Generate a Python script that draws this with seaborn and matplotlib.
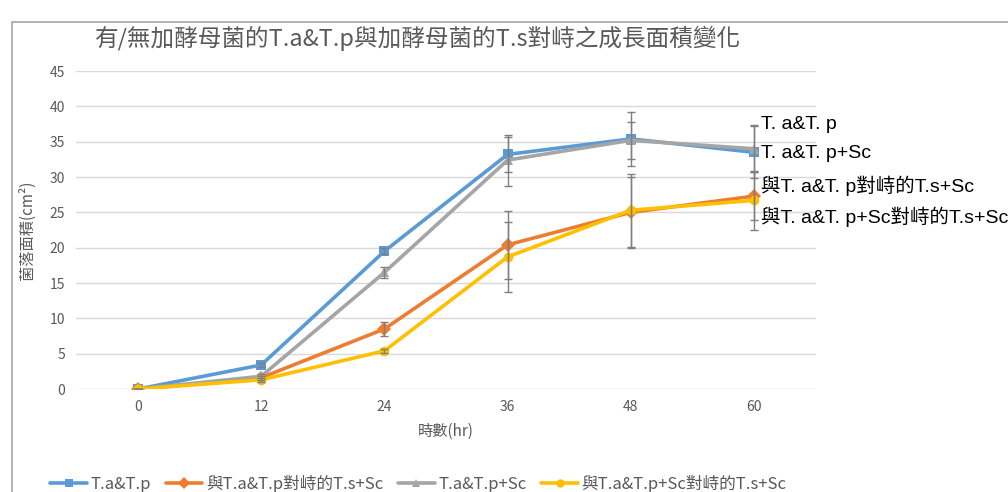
import numpy as np
import pandas as pd
import seaborn as sns
import matplotlib.pyplot as plt
from matplotlib.lines import Line2D

# ======================
# DATOS
# ======================
hours = [0, 12, 24, 36, 48, 60]

series_names = ["T.a&T.p", "與T.a&T.p對峙的T.s+Sc", "T.a&T.p+Sc", "與T.a&T.p+Sc對峙的T.s+Sc"]
ta_tp = [0, 3.4, 19.5, 33.2, 35.4, 33.5]
ts_vs_tatp = [0, 1.6, 8.5, 20.4, 25.0, 27.3]
ta_tp_sc = [0, 1.8, 16.5, 32.4, 35.2, 34.0]
ts_vs_tatp_sc = [0, 1.3, 5.4, 18.7, 25.3, 26.7]

ta_tp_err = [0, 0.3, 0.4, 2.5, 3.8, 3.7]
ts_vs_tatp_err = [0, 0.3, 1.0, 4.8, 5.0, 3.4]
ta_tp_sc_err = [0, 0.3, 0.8, 3.6, 2.6, 3.3]
ts_vs_tatp_sc_err = [0, 0.3, 0.3, 4.9, 5.2, 4.2]

right_labels = ["T. a&T. p", "T. a&T. p+Sc", "與T. a&T. p對峙的T.s+Sc", "與T. a&T. p+Sc對峙的T.s+Sc"]
right_label_y = [37.4, 33.3, 28.7, 24.4]

colors = ["#5B9BD5", "#ED7D31", "#A5A5A5", "#FFC000"]
markers = ["s", "D", "^", "o"]

values = [ta_tp, ts_vs_tatp, ta_tp_sc, ts_vs_tatp_sc]
errors = [ta_tp_err, ts_vs_tatp_err, ta_tp_sc_err, ts_vs_tatp_sc_err]

df = pd.DataFrame({
    "hora": hours * 4,
    "area": sum(values, []),
    "serie": sum([[n] * len(hours) for n in series_names], []),
})

# ======================
# ESTILO
# ======================
sns.set_style("white")
plt.rcParams["font.family"] = ["Noto Sans CJK TC", "DejaVu Sans"]

fig = plt.figure(figsize=(10.08, 4.92), dpi=100)
ax = fig.add_axes([0.0758, 0.2093, 0.7333, 0.6463])

sns.lineplot(data=df, x="hora", y="area", hue="serie", style="serie",
             palette=dict(zip(series_names, colors)),
             markers=dict(zip(series_names, markers)), dashes=False,
             linewidth=2.6, markersize=7, markeredgewidth=0,
             legend=False, ax=ax, zorder=3)

for v, e in zip(values, errors):
    ax.errorbar(hours, v, yerr=e, fmt="none", ecolor="#7F7F7F",
                elinewidth=1, capsize=3, capthick=1, zorder=4)

ax.set_xlim(-6, 66)
ax.set_ylim(0, 45)
ax.set_xticks(hours)
ax.set_yticks(range(0, 50, 5))
ax.yaxis.grid(True, color="#D9D9D9", linewidth=1)
ax.set_axisbelow(True)
for s in ax.spines.values():
    s.set_visible(False)
ax.tick_params(axis="both", length=0, labelsize=10, colors="#595959", pad=8)

ax.set_xlabel("時數(hr)", fontsize=11, color="#595959", labelpad=6)
ax.set_ylabel("菌落面積(cm²)", fontsize=11, color="#595959", labelpad=10)

fig.text(0.094, 0.922, "有/無加酵母菌的T.a&T.p與加酵母菌的T.s對峙之成長面積變化",
         fontsize=17, color="#595959", va="center", ha="left")

for lab, yy in zip(right_labels, right_label_y):
    ax.text(60.7, yy, lab, fontsize=14, color="black", va="center", ha="left",
            family=["Liberation Sans", "Noto Sans CJK TC"], clip_on=False)

handles = [Line2D([0], [0], color=c, marker=m, linewidth=2.6, markersize=6, markeredgewidth=0)
           for c, m in zip(colors, markers)]
fig.legend(handles, series_names, loc="center", bbox_to_anchor=(0.415, 0.017), ncol=4,
           frameon=False, fontsize=12, handlelength=2.2, handletextpad=0.2,
           columnspacing=0.9, labelcolor="#595959")

# marco exterior
fig.add_artist(Line2D([0.012, 0.012], [0, 0.955], color="#A6A6A6", linewidth=1.2))
fig.add_artist(Line2D([0.012, 1.0], [0.955, 0.955], color="#A6A6A6", linewidth=1.2))

plt.savefig("out.png", dpi=100)
